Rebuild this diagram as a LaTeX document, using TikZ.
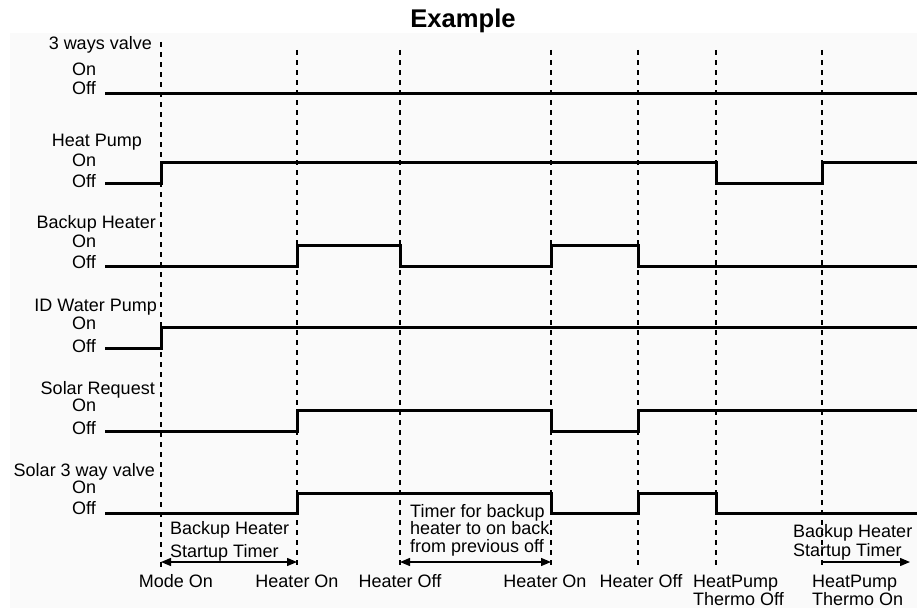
\documentclass[tikz,border=0pt]{standalone}
\usepackage{fontspec}
\setmainfont{Liberation Sans}
\usetikzlibrary{arrows.meta}

\begin{document}
\begin{tikzpicture}[
  x=1pt, y=-1pt,
  sig/.style={line width=3pt},
  guide/.style={dash pattern=on 5pt off 5pt, line width=1.1pt},
  lbl/.style={font=\fontsize{18}{18}\selectfont, inner sep=0pt},
  span/.style={line width=1.3pt, {Triangle[length=10pt,width=8pt]}-{Triangle[length=10pt,width=8pt]}},
  spanr/.style={line width=1.3pt, -{Triangle[length=10pt,width=8pt]}}
]
\useasboundingbox (0,0) rectangle (917,610);
\fill[black!2] (10,33) rectangle (917,608);

\node[font=\bfseries\fontsize{25.6}{28}\selectfont, inner sep=0pt, anchor=base] (title) at (463,28) {Example};

% event lines
\foreach \n/\x/\top in {a/161/42,b/297/50,c/400/50,d/551/50,e/638/50,f/716/50,g/822/50} {
  \coordinate (\n) at (\x,\top);
  \draw[guide] (\n) -- (\x,567);
}

% signal names
\foreach \y/\xe/\name in {49/152/3 ways valve,146/142/Heat Pump,228/156/Backup Heater,311/157/ID Water Pump,394/155/Solar Request,476/155/Solar 3 way valve} {
  \node[lbl, anchor=base east] at (\xe,\y) {\name};
}
\foreach \on/\off in {75/94,166/187,247/268,329/352,411/434,493/514} {
  \node[lbl, anchor=base west] at (72,\on) {On};
  \node[lbl, anchor=base west] at (72,\off) {Off};
}

% waveforms
\draw[sig] (105,93) -- (917,93);
\draw[sig] (105,183) -| (161,162) -| (716,183) -| (822,162) -- (917,162);
\draw[sig] (105,266) -| (297,245) -| (400,266) -| (551,245) -| (638,266) -- (917,266);
\draw[sig] (105,348) -| (161,327) -- (917,327);
\draw[sig] (105,431) -| (297,410) -| (551,431) -| (638,410) -- (917,410);
\draw[sig] (105,513) -| (297,493) -| (551,513) -| (638,493) -| (716,513) -- (917,513);

% timers
\coordinate (s1) at (161,562);
\coordinate (s2) at (297,562);
\coordinate (s3) at (400,562);
\coordinate (s4) at (551,562);
\coordinate (s5) at (822,562);
\coordinate (s6) at (910,562);
\draw[span] (s1) -- (s2);
\draw[span] (s3) -- (s4);
\draw[spanr] (s5) -- (s6);

\node[lbl, font=\fontsize{18}{22.5}\selectfont, align=left, anchor=base west] (t1) at (170,557) {Backup Heater\\Startup Timer};
\node[lbl, font=\fontsize{18}{17.5}\selectfont, align=left, anchor=base west] (t2) at (410,552) {Timer for backup\\heater to on back\\from previous off};
\node[lbl, font=\fontsize{18}{19}\selectfont, align=left, anchor=base west] (t3) at (793,556) {Backup Heater\\Startup Timer};

% events
\foreach \x/\txt in {176/Mode On,297/Heater On,400/Heater Off,545/Heater On,641/Heater Off} {
  \node[lbl, anchor=base] at (\x,587) {\txt};
}
\node[lbl, font=\fontsize{18}{18}\selectfont, align=left, anchor=base west] (hp1) at (693,605) {HeatPump\\Thermo Off};
\node[lbl, font=\fontsize{18}{18}\selectfont, align=left, anchor=base west] (hp2) at (812,605) {HeatPump\\Thermo On};
\end{tikzpicture}
\end{document}
